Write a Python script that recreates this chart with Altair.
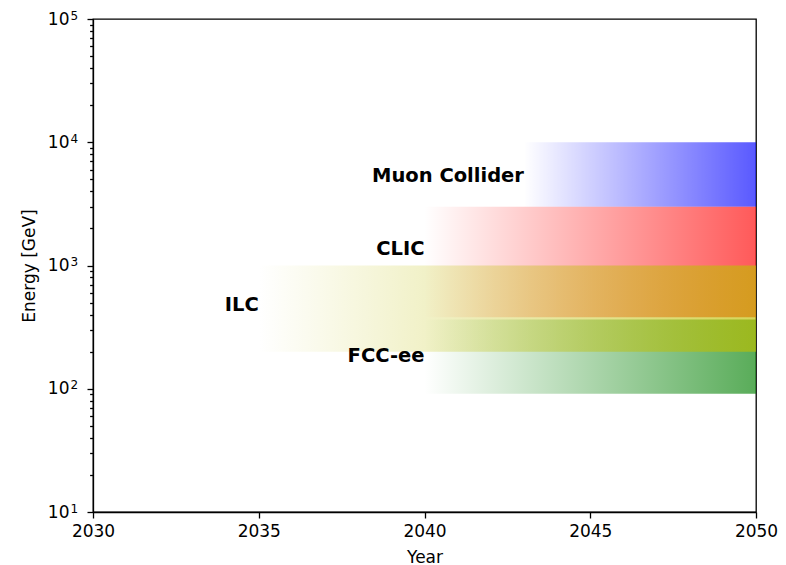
import altair as alt
import pandas as pd

# Collider bands (drawn in this order; ILC on top)
names = ["Muon Collider", "CLIC", "FCC-ee", "ILC"]
start_year = [2043, 2040, 2040, 2035]
end_year = [2050, 2050, 2050, 2050]
e_low = [3000, 380, 91, 200]
e_high = [10000, 3000, 365, 1000]
rgb = [(0, 0, 255), (255, 0, 0), (0, 128, 0), (191, 191, 0)]
label_energy = [5300, 1350, 185, 480]

x_ticks = [2030, 2035, 2040, 2045, 2050]
y_major = [10, 100, 1000, 10000, 100000]
y_exponents = ["1", "2", "3", "4", "5"]
y_minor = [m * d for d in [10, 100, 1000, 10000] for m in range(2, 10)]

df = pd.DataFrame({
    "name": names, "start": start_year, "end": end_year,
    "lo": e_low, "hi": e_high, "ly": label_energy,
})

FONT = "DejaVu Sans"
W, H = 663, 493

major_test = "indexof([" + ",".join(str(v) for v in y_major) + "], datum.value) >= 0"
base_expr = f"{major_test} ? '10' : ''"
exp_expr = " : ".join(
    f"datum.value == {v} ? '{t}'" for v, t in zip(y_major, y_exponents)
) + " : ''"

x_scale = alt.Scale(domain=[2030, 2050], nice=False, zero=False)
y_scale = alt.Scale(type="log", domain=[10, 100000], nice=False)

x_axis = alt.Axis(values=x_ticks, format="d", title="Year", grid=False,
                  labelFlush=False, tickSize=6, labelPadding=5, titlePadding=10)
y_axis = alt.Axis(values=sorted(y_major + y_minor), labelExpr=base_expr,
                  title="Energy [GeV]", grid=False, labelOverlap=False,
                  labelFlush=False,
                  tickSize={"condition": {"test": major_test, "value": 6}, "value": 3.4},
                  labelPadding=18, titlePadding=9)
exp_axis = alt.Axis(values=y_major, labelExpr=exp_expr, orient="right",
                    offset=-(W + 23), title=None, grid=False, domain=False,
                    ticks=False, tickSize=0, labelPadding=0, labelAlign="left",
                    labelBaseline="middle", labelOffset=-4, labelFontSize=12,
                    labelOverlap=False, labelFlush=False)

layers = []
for i, nm in enumerate(names):
    r, g, b = rgb[i]
    grad = alt.LinearGradient(
        gradient="linear",
        stops=[alt.GradientStop(offset=0, color=f"rgba({r},{g},{b},0)"),
               alt.GradientStop(offset=1, color=f"rgba({r},{g},{b},0.65)")],
        x1=0, x2=1, y1=0, y2=0,
    )
    layers.append(
        alt.Chart(df).transform_filter(alt.datum.name == nm)
        .mark_rect(fill=grad, strokeWidth=0)
        .encode(
            x=alt.X("start:Q", scale=x_scale, axis=x_axis),
            x2="end:Q",
            y=alt.Y("lo:Q", scale=y_scale, axis=y_axis if i == 0 else None),
            y2="hi:Q",
        )
    )

text = alt.Chart(df).mark_text(
    align="right", baseline="middle", font=FONT, fontWeight="bold",
    fontSize=19.5, color="black"
).encode(
    x=alt.X("start:Q", scale=x_scale, axis=x_axis),
    y=alt.Y("ly:Q", scale=y_scale, axis=exp_axis),
    text="name:N",
)

chart = alt.layer(*layers, text).resolve_axis(y="independent").properties(
    width=W, height=H,
    autosize=alt.AutoSizeParams(type="none"),
    padding={"left": 85, "top": 11, "right": 22, "bottom": 53},
).configure_view(
    stroke="black", strokeWidth=1.3
).configure_axis(
    domainColor="black", domainWidth=1.3, tickColor="black", tickWidth=1.3,
    labelColor="black", titleColor="black", labelFont=FONT, titleFont=FONT,
    labelFontSize=17, titleFontSize=17, titleFontWeight="normal",
)

chart.save("out.html", embed_options={"renderer": "svg", "actions": False})
